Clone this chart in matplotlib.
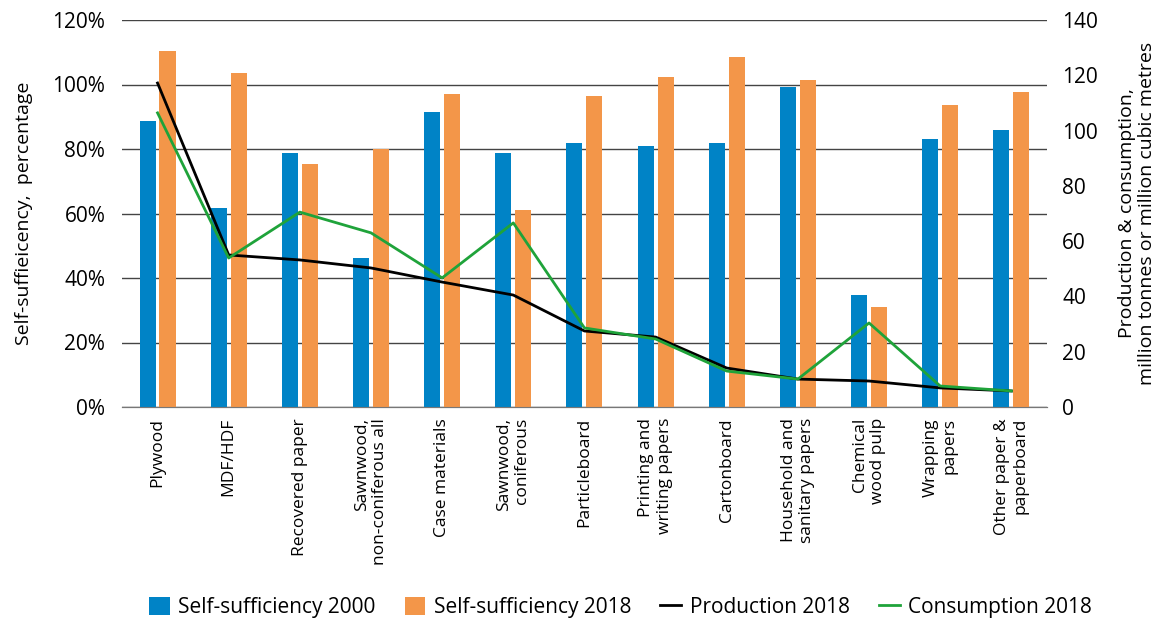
import matplotlib
matplotlib.use('Agg')
import matplotlib.pyplot as plt
import numpy as np

plt.rcParams['font.family'] = ['Open Sans', 'DejaVu Sans']

categories = [
    'Plywood',
    'MDF/HDF',
    'Recovered paper',
    'Sawnwood,\nnon-coniferous all',
    'Case materials',
    'Sawnwood,\nconiferous',
    'Particleboard',
    'Printing and\nwriting papers',
    'Cartonboard',
    'Household and\nsanitary papers',
    'Chemical\nwood pulp',
    'Wrapping\npapers',
    'Other paper &\npaperboard',
]
# self-sufficiency, percent
self_suff_2000 = [88.7, 61.7, 78.8, 46.2, 91.5, 78.8, 81.9, 80.9, 81.9, 99.2, 34.7, 83.1, 85.9]
self_suff_2018 = [110.4, 103.6, 75.3, 80.0, 97.0, 61.0, 96.4, 102.3, 108.5, 101.4, 31.0, 93.6, 97.7]
# million tonnes or million cubic metres
production_2018 = [117.2, 55.0, 53.2, 50.3, 45.2, 40.5, 27.5, 25.3, 14.1, 10.1, 9.4, 6.9, 5.8]
consumption_2018 = [106.4, 53.9, 70.5, 63.0, 46.7, 66.6, 28.6, 24.6, 13.0, 10.1, 30.4, 7.6, 5.8]

blue = '#0083c6'
orange = '#f39649'
green = '#1fa33a'

fig = plt.figure(figsize=(11.75, 6.25), dpi=100)
ax = fig.add_axes([0.1038, 0.3488, 0.7872, 0.6192])
ax2 = ax.twinx()

x = np.arange(len(categories))
w = 0.225
ax.bar(x - 0.14, self_suff_2000, w, color=blue, label='Self-sufficiency 2000', zorder=3)
ax.bar(x + 0.14, self_suff_2018, w, color=orange, label='Self-sufficiency 2018', zorder=3)

ax2.plot(x, production_2018, color='black', lw=2, label='Production 2018')
ax2.plot(x, consumption_2018, color=green, lw=2, label='Consumption 2018')

ax.set_xlim(-0.5, len(categories) - 0.5)
ax.set_ylim(0, 120)
ax.set_yticks(np.arange(0, 121, 20))
ax.set_yticklabels([f'{v}%' for v in range(0, 121, 20)])
ax2.set_ylim(0, 140)
ax2.set_yticks(np.arange(0, 141, 20))

ax.yaxis.grid(True, color='#444444', lw=1, zorder=0)
ax.set_axisbelow(True)
for a in (ax, ax2):
    for s in ('top', 'left', 'right'):
        a.spines[s].set_visible(False)
    a.spines['bottom'].set_color('#777777')
    a.tick_params(length=0, labelsize=15)
ax.tick_params(axis='y', pad=12)
ax2.tick_params(axis='y', pad=11)

ax.set_xticks(x)
ax.set_xticklabels(categories, rotation=90, ha='center', va='top',
                   multialignment='right', fontsize=12.5)
ax.tick_params(axis='x', pad=8)

ax.set_ylabel('Self-suffieicency,  percentage', fontsize=14, labelpad=14)
ax2.set_ylabel('Production & consumption,\nmillion tonnes or million cubic metres',
               fontsize=14, labelpad=14)

h1, l1 = ax.get_legend_handles_labels()
h2, l2 = ax2.get_legend_handles_labels()
fig.legend(h1 + h2, l1 + l2, loc='center', bbox_to_anchor=(0.528, 0.028), ncol=4,
           frameon=False, fontsize=15, handlelength=1.0, handleheight=1.0,
           columnspacing=1.4, handletextpad=0.4)

fig.savefig('out.png', dpi=100)
